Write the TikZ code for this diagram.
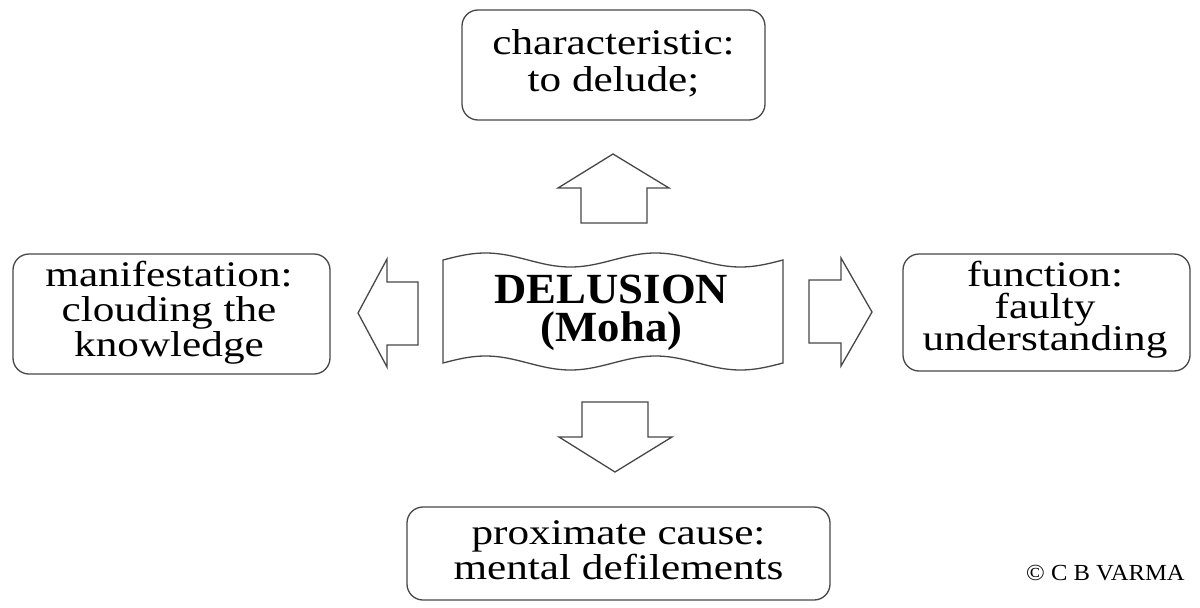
\documentclass[tikz,border=0pt]{standalone}
\usepackage{fontspec}
\setmainfont{Liberation Serif}
\newfontfamily\boxfont[FakeStretch=1.2]{Liberation Serif}
\newfontfamily\centrefont[FakeStretch=1.04]{Liberation Serif}
\newfontfamily\copyfont[FakeStretch=1.07]{Liberation Serif}
\tikzset{
  boxline/.style={draw=black!72, line width=1.3pt, rounded corners=16pt, inner sep=0pt},
  boxtext/.style={align=center, inner sep=0pt, text=black},
  blockarrow/.style={draw=black!72, line width=1.3pt, fill=white, line join=miter},
}
\lineskiplimit=-100pt
\begin{document}
\begin{tikzpicture}[x=1pt,y=-1pt]
\fill[white] (0,0) rectangle (1200,608);
\useasboundingbox (0,0) rectangle (1200,608);

% boxes
\node[boxline, minimum width=303pt, minimum height=110pt] (charbox) at (613.5,65) {};
\node[boxline, minimum width=317pt, minimum height=120pt] (manifbox) at (171.5,314) {};
\node[boxline, minimum width=287pt, minimum height=117pt] (funcbox) at (1046.5,312.5) {};
\node[boxline, minimum width=423pt, minimum height=93pt] (causebox) at (618.5,553.5) {};

% box texts
\node[boxtext, font={\boxfont\fontsize{36}{37}\selectfont\lineskiplimit=-100pt\relax}] (char) at (613.5,63) {characteristic:\\to delude;};
\node[boxtext, font={\boxfont\fontsize{36}{35}\selectfont\lineskiplimit=-100pt\relax}] (manif) at (169,313) {manifestation:\\clouding the\\knowledge};
\node[boxtext, font={\boxfont\fontsize{36}{32}\selectfont\lineskiplimit=-100pt\relax}] (func) at (1045,310) {function:\\faulty\\understanding};
\node[boxtext, font={\boxfont\fontsize{36}{35}\selectfont\lineskiplimit=-100pt\relax}] (cause) at (618.5,550.5) {proximate cause:\\mental defilements};

% central wave
\draw[blockarrow] plot[domain=443:783, samples=120] (\x,{260-7*sin(2.117647*(\x-443))})
  -- plot[domain=783:443, samples=120] (\x,{363-7*sin(2.117647*(\x-443))}) -- cycle;
\node[boxtext, font={\centrefont\bfseries\fontsize{43}{38}\selectfont\lineskiplimit=-100pt\relax}] (del) at (611.5,312.5) {DELUSION\\(Moha)};

% block arrows
\draw[blockarrow] (581,223) -- (581,188) -- (558,188) -- (613,154) -- (669,188) -- (647,188) -- (647,223) -- cycle;
\draw[blockarrow] (582,402) -- (648,402) -- (648,437) -- (672,437) -- (615,472) -- (559,437) -- (582,437) -- cycle;
\draw[blockarrow] (418,282) -- (387,282) -- (387,259) -- (358,313) -- (387,367) -- (387,345) -- (418,345) -- cycle;
\draw[blockarrow] (809,280) -- (841,280) -- (841,258) -- (872,312) -- (841,366) -- (841,343) -- (809,343) -- cycle;

% copyright
\node[anchor=base west, inner sep=0pt, font=\copyfont\fontsize{23}{26}\selectfont] (copy) at (1026,580) {© C B VARMA};
\end{tikzpicture}
\end{document}
